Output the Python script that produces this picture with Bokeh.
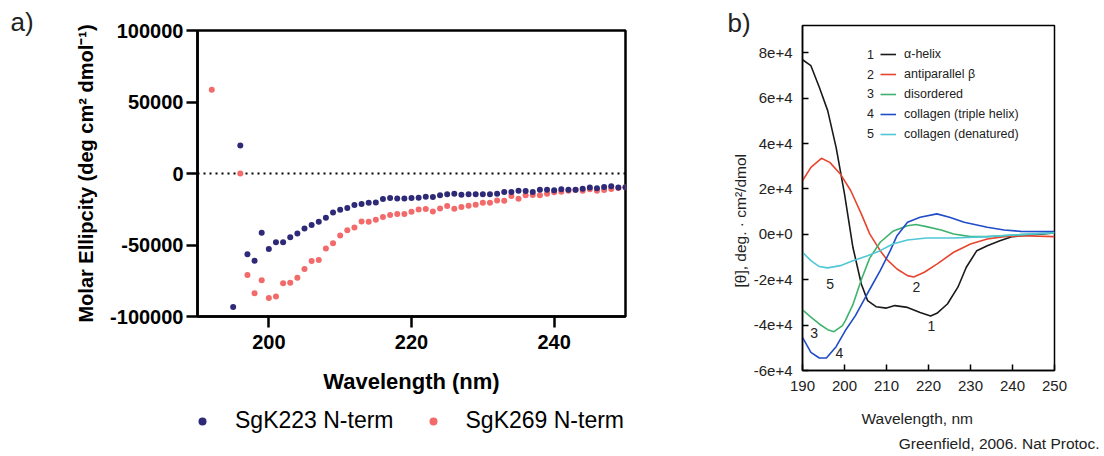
from bokeh.plotting import figure
from bokeh.layouts import row, column
from bokeh.models import (Range1d, Span, Label, Legend, LegendItem, Title,
                          NumeralTickFormatter, FixedTicker)
from bokeh.embed import file_html
from bokeh.resources import INLINE
from bokeh.core.properties import value

# ---------------- Panel a data ----------------
sgk223_wl = list(range(195, 251))
sgk223 = [-93300, 19500, -56500, -61000, -41500, -52800, -48100, -48100, -44500, -42000,
          -38500, -36100, -33800, -30900, -27200, -25300, -24100, -22000, -21300, -20400,
          -20200, -17800, -17100, -17400, -17400, -17100, -16900, -16200, -16400, -15200,
          -14500, -14100, -14800, -14500, -14500, -14500, -14500, -14100, -12900, -12900,
          -12000, -12200, -12900, -11300, -11300, -11700, -11000, -11300, -11300, -10600,
          -9800, -10300, -9400, -8900, -9800, -9600]
sgk269_wl = [192] + list(range(196, 251))
sgk269 = [58600, 0, -71000, -83700, -74600, -87000, -86000, -76700, -76400, -72900,
          -66800, -61200, -60500, -52500, -48800, -43400, -39600, -37700, -33500, -33800,
          -32400, -30500, -29100, -28400, -28400, -26700, -25100, -24900, -26500, -24400,
          -22700, -24600, -23400, -22500, -21800, -20400, -20400, -18800, -19000, -15700,
          -17600, -15200, -15000, -15200, -14100, -13100, -12700, -12000, -11500, -12000,
          -11000, -12000, -11500, -10800, -10100, -9600]
series_a_names = ["SgK223 N-term", "SgK269 N-term"]
x_ticks_a = [200, 220, 240]
y_ticks_a = [-100000, -50000, 0, 50000, 100000]

# ---------------- Panel b data ----------------
alpha_wl = [190, 192, 194, 196, 198, 200, 202, 204, 205.5, 207.5, 210, 212, 215, 218, 220.5,
            222, 224.5, 227, 229, 231.5, 234, 237, 240, 243.5, 250]
alpha = [76900, 74300, 64800, 54500, 38300, 17800, -5700, -21900, -29200, -31900, -32500,
         -31400, -32200, -34400, -36000, -34800, -30700, -23300, -14500, -7200, -5000,
         -2800, -1000, -400, 600]
beta_wl = [190, 192, 194.5, 196.5, 199, 201.5, 204, 206, 208.5, 210, 212.5, 215, 216.5, 219,
           222, 226, 230, 234, 238, 242, 250]
beta = [23600, 29500, 33500, 31700, 26600, 19200, 9000, 200, -7200, -10900, -15300, -18200,
        -18800, -16700, -13100, -7900, -4300, -2100, -1000, -600, -1000]
disordered_wl = [190, 192, 194, 196, 197.5, 199.5, 200.2, 202, 204, 206, 208.5, 211.5, 215,
                 217, 219.5, 223, 226, 230, 234, 242, 250]
disordered = [-33300, -36500, -39500, -42000, -42900, -40200, -38000, -31000, -20000, -10500,
              -3500, 1300, 3800, 4300, 3400, 1900, 150, -1000, -1000, -150, 600]
collagen_wl = [190, 192, 194, 195.7, 198, 200.2, 202.6, 205.4, 208.5, 210.9, 212.5, 215, 218,
               222, 225, 228.5, 234, 238, 242, 250]
collagen = [-45400, -52000, -54500, -54500, -49500, -42400, -35800, -26300, -16000, -7200,
            -600, 5300, 7500, 9000, 7500, 5300, 3100, 1900, 1300, 1200]
denatured_wl = [190, 192, 194, 196, 199, 202, 205.5, 208.5, 211.5, 215, 219.5, 226, 234, 242, 250]
denatured = [-7900, -11600, -14200, -14800, -13800, -11600, -9400, -7200, -4300, -2500,
             -1600, -1600, -1000, -150, 700]
legend_b_nums = ["1", "2", "3", "4", "5"]
legend_b_names = ["\u03b1-helix", "antiparallel \u03b2", "disordered",
                  "collagen (triple helix)", "collagen (denatured)"]
curve_num_text = ["5", "2", "1", "3", "4"]
curve_num_x = [196.6, 217.1, 220.7, 192.8, 198.8]
curve_num_y = [-21700, -23300, -40200, -43300, -52500]
x_ticks_b = [190, 200, 210, 220, 230, 240, 250]
y_ticks_b = [-60000, -40000, -20000, 0, 20000, 40000, 60000, 80000]
y_tick_labels_b = ["-6e+4", "-4e+4", "-2e+4", "0e+0", "2e+4", "4e+4", "6e+4", "8e+4"]

FONT = "Liberation Sans"
BLUE_A = "#2e2a78"
RED_A = "#f26a6a"

# ================= Panel a =================
pa = figure(width=705, height=402, output_backend="svg", toolbar_location=None,
            x_range=Range1d(190, 250), y_range=Range1d(-100000, 100000),
            min_border_left=197, min_border_right=80, min_border_top=30,
            min_border_bottom=86)
pa.frame_align = False
pa.grid.visible = False
pa.outline_line_color = "black"
pa.outline_line_width = 2.5
pa.outline_line_alpha = 1.0

zero = Span(location=0, dimension="width", line_color="black", line_width=2,
            line_dash="2 4", level="underlay")
pa.add_layout(zero)

r_red = pa.scatter(sgk269_wl, sgk269, size=6, color=RED_A, line_color=None)
r_blue = pa.scatter(sgk223_wl, sgk223, size=6, color=BLUE_A, line_color=None)

for ax in (pa.xaxis[0], pa.yaxis[0]):
    ax.axis_line_width = 2.5
    ax.axis_line_color = "black"
    ax.major_tick_line_width = 2.5
    ax.major_tick_line_color = "black"
    ax.major_tick_out = 11
    ax.major_tick_in = 0
    ax.minor_tick_line_color = None
    ax.major_label_text_font = FONT
    ax.major_label_text_font_style = "bold"
    ax.major_label_text_font_size = "20px"
    ax.major_label_text_color = "black"
    ax.axis_label_text_font = FONT
    ax.axis_label_text_font_style = "bold"
    ax.axis_label_text_color = "black"

pa.xaxis.ticker = FixedTicker(ticks=x_ticks_a)
pa.yaxis.ticker = FixedTicker(ticks=y_ticks_a)
pa.yaxis.formatter = NumeralTickFormatter(format="0")
pa.xaxis.axis_label = "Wavelength (nm)"
pa.xaxis.axis_label_text_font_size = "22px"
pa.xaxis.major_label_standoff = 7
pa.xaxis.axis_label_standoff = 17
pa.yaxis.axis_label = "Molar Ellipcity (deg cm\u00b2 dmol\u207b\u00b9)"
pa.yaxis.axis_label_text_font_size = "20px"
pa.yaxis.major_label_standoff = 3
pa.yaxis.axis_label_standoff = 10

pa.add_layout(Title(text="a)", align="left", offset=-187, standoff=-12,
                    text_font=FONT, text_font_size="26px", text_font_style="normal",
                    text_color="#222222"), "above")

# legend strip under panel a (same series, drawn outside this strip's view)
lf = figure(width=705, height=54, output_backend="svg", toolbar_location=None,
            x_range=Range1d(0, 1), y_range=Range1d(0, 1), min_border=0,
            x_axis_type=None, y_axis_type=None)
lf.frame_align = False
lf.outline_line_color = None
lr_blue = lf.scatter(sgk223_wl, sgk223, size=6, color=BLUE_A, line_color=None)
lr_red = lf.scatter(sgk269_wl, sgk269, size=6, color=RED_A, line_color=None)
leg_a = Legend(items=[LegendItem(label=series_a_names[0], renderers=[lr_blue]),
                      LegendItem(label=series_a_names[1], renderers=[lr_red])],
               orientation="horizontal", location=(192, 22),
               padding=0, margin=0, spacing=29, glyph_width=20, glyph_height=20,
               label_height=20, label_standoff=23,
               label_text_font=FONT, label_text_font_size="23px",
               label_text_color="black",
               border_line_alpha=0, background_fill_alpha=0)
lf.add_layout(leg_a)

# ================= Panel b =================
pb = figure(width=399, height=456, output_backend="svg", toolbar_location=None,
            x_range=Range1d(190, 250), y_range=Range1d(-60000, 92000),
            min_border_left=97, min_border_right=50, min_border_top=25,
            min_border_bottom=86)
pb.frame_align = False
pb.grid.visible = False
pb.outline_line_color = "black"
pb.outline_line_width = 1.5
pb.outline_line_alpha = 1.0

colors_b = ["#1a1a1a", "#e8452f", "#3fb36e", "#1f4cc8", "#4fc7d6"]
curves = [(alpha_wl, alpha), (beta_wl, beta), (disordered_wl, disordered),
          (collagen_wl, collagen), (denatured_wl, denatured)]
rends_b = []
for (xs, ys), c in zip(curves, colors_b):
    rends_b.append(pb.line(xs, ys, line_color=c, line_width=1.6))

for ax in (pb.xaxis[0], pb.yaxis[0]):
    ax.axis_line_width = 1.5
    ax.axis_line_color = "black"
    ax.major_tick_line_width = 1.5
    ax.major_tick_line_color = "black"
    ax.major_tick_out = 0
    ax.major_tick_in = 6
    ax.minor_tick_line_color = None
    ax.major_label_text_font = FONT
    ax.major_label_text_font_size = "15px"
    ax.major_label_text_color = "#222222"

pb.xaxis.ticker = FixedTicker(ticks=x_ticks_b)
pb.yaxis.ticker = FixedTicker(ticks=y_ticks_b)
pb.yaxis.major_label_overrides = dict(zip(y_ticks_b, y_tick_labels_b))
pb.xaxis.major_label_standoff = 10
pb.yaxis.major_label_standoff = 10

leg_b = Legend(items=[LegendItem(label=n, renderers=[r]) for n, r in zip(legend_b_names, rends_b)],
               location=(78, 226), padding=0, margin=0, spacing=0,
               glyph_width=16, glyph_height=20, label_height=20, label_standoff=8,
               label_text_font=FONT, label_text_font_size="12.5px",
               label_text_color="#222222",
               border_line_alpha=0, background_fill_alpha=0)
pb.add_layout(leg_b)

for i, num in enumerate(legend_b_nums):
    pb.add_layout(Label(x=68, y=316 - 19.7 * i, x_units="screen", y_units="screen",
                        text=num, text_font=FONT, text_font_size="12.5px",
                        text_align="center", text_baseline="middle",
                        text_color="#222222"))

pb.text(x=curve_num_x, y=curve_num_y, text=curve_num_text,
        text_font=value(FONT), text_font_size="14px", text_align="center",
        text_baseline="middle", text_color="#222222")

pb.add_layout(Title(text="b)", align="left", offset=-75, standoff=-24,
                    text_font=FONT, text_font_size="26px", text_font_style="normal",
                    text_color="#222222"), "above")
pb.add_layout(Title(text="[\u03b8], deg. \u00b7 cm\u00b2/dmol", align="left", offset=83,
                    standoff=4, text_font=FONT, text_font_size="15.5px",
                    text_font_style="normal", text_color="#222222"), "left")
pb.add_layout(Title(text="Wavelength, nm", align="left", offset=59, standoff=28,
                    text_font=FONT, text_font_size="15.5px", text_font_style="normal",
                    text_color="#222222"), "below")
pb.add_layout(Title(text="Greenfield, 2006. Nat Protoc.", align="right", offset=-45,
                    standoff=-16, text_font=FONT, text_font_size="15.5px",
                    text_font_style="normal", text_color="#222222"), "below")

layout = row(column(pa, lf), pb)
open("out.html", "w").write(file_html(layout, INLINE))
